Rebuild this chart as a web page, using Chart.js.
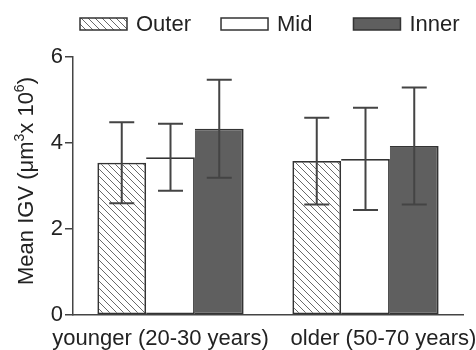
<!DOCTYPE html>
<html>
<head>
<meta charset="utf-8">
<script src="https://cdn.jsdelivr.net/npm/chart.js@4"></script>
<style>
  html, body { margin: 0; padding: 0; background: #fff; }
  #wrap { width: 476px; height: 350px; }
</style>
</head>
<body>
<div id="wrap"><canvas id="igvChart" width="476" height="350"></canvas></div>
<script>
// data
const categories = ['younger (20-30 years)', 'older (50-70 years)'];
const seriesNames = ['Outer', 'Mid', 'Inner'];
const outerMean = [3.54, 3.58];
const outerErr = [0.94, 1.01];
const midMean = [3.67, 3.63];
const midErr = [0.78, 1.19];
const innerMean = [4.33, 3.93];
const innerErr = [1.14, 1.36];
const yTicks = [0, 2, 4, 6];

const FONT = '"Liberation Sans", Arial, Helvetica, sans-serif';
const INK = '#333333';

// diagonal hatch for the "Outer" bars
function makeHatch() {
    const s = 7;
    const tile = document.createElement('canvas');
    tile.width = s;
    tile.height = s;
    const t = tile.getContext('2d');
    t.fillStyle = '#ffffff';
    t.fillRect(0, 0, s, s);
    t.strokeStyle = '#6a6a6a';
    t.lineWidth = 1;
    t.beginPath();
    t.moveTo(-1, -1); t.lineTo(s + 1, s + 1);
    t.moveTo(s - 1, -1); t.lineTo(s + 1, 1);
    t.moveTo(-1, s - 1); t.lineTo(1, s + 1);
    t.stroke();
    return document.createElement('canvas').getContext('2d').createPattern(tile, 'repeat');
}
const hatch = makeHatch();

const errorBars = {
    id: 'errorBars',
    afterDatasetsDraw(chart) {
        const ctx = chart.ctx;
        const y = chart.scales.y;
        ctx.save();
        ctx.strokeStyle = '#444';
        ctx.lineWidth = 2;
        chart.data.datasets.forEach((ds, i) => {
            const meta = chart.getDatasetMeta(i);
            meta.data.forEach((bar, j) => {
                const hi = y.getPixelForValue(ds.data[j] + ds.err[j]);
                const lo = y.getPixelForValue(ds.data[j] - ds.err[j]);
                const cap = 12.5;
                ctx.beginPath();
                ctx.moveTo(bar.x, hi); ctx.lineTo(bar.x, lo);
                ctx.moveTo(bar.x - cap, hi); ctx.lineTo(bar.x + cap, hi);
                ctx.moveTo(bar.x - cap, lo); ctx.lineTo(bar.x + cap, lo);
                ctx.stroke();
            });
        });
        ctx.restore();
    }
};

// legend, y title and category labels drawn by hand
const decorations = {
    id: 'decorations',
    afterDraw(chart) {
        const ctx = chart.ctx;
        const area = chart.chartArea;
        ctx.save();

        // legend
        ctx.font = '22px ' + FONT;
        ctx.textBaseline = 'middle';
        const gaps = [30, 41, 0];
        let x = area.left + 7;
        chart.data.datasets.forEach((ds, i) => {
            ctx.fillStyle = ds.backgroundColor;
            ctx.fillRect(x, 18, 47, 12);
            ctx.strokeStyle = INK;
            ctx.lineWidth = 1.5;
            ctx.strokeRect(x, 18, 47, 12);
            ctx.fillStyle = '#222';
            ctx.fillText(ds.label, x + 56, 25);
            x += 56 + ctx.measureText(ds.label).width + gaps[i];
        });

        // category labels
        const xs = chart.scales.x;
        const labelShift = [-10, 18];
        ctx.textAlign = 'center';
        ctx.textBaseline = 'alphabetic';
        chart.data.labels.forEach((lab, i) => {
            ctx.fillText(lab, xs.getPixelForTick(i) + labelShift[i], 345);
        });

        // y axis title with superscripts
        const parts = [
            ['Mean IGV (\u03bcm', 22, 0],
            ['3', 14, -9],
            ['x 10', 22, 0],
            ['6', 14, -9],
            [')', 22, 0]
        ];
        let total = 0;
        parts.forEach(p => { ctx.font = p[1] + 'px ' + FONT; total += ctx.measureText(p[0]).width; });
        ctx.translate(33, 181);
        ctx.rotate(-Math.PI / 2);
        ctx.textAlign = 'left';
        let cx = -total / 2;
        parts.forEach(p => {
            ctx.font = p[1] + 'px ' + FONT;
            ctx.fillText(p[0], cx, p[2]);
            cx += ctx.measureText(p[0]).width;
        });
        ctx.restore();
    }
};

// adjacent bars share one edge: the later bar skips its left border
function barStyle(skip) {
    return {
        borderColor: INK,
        borderWidth: 1.8,
        borderSkipped: skip,
        inflateAmount: 0,
        barPercentage: 1,
        categoryPercentage: 0.75
    };
}

new Chart(document.getElementById('igvChart'), {
    type: 'bar',
    data: {
        labels: categories,
        datasets: [
            Object.assign({ label: seriesNames[0], data: outerMean, err: outerErr, backgroundColor: hatch }, barStyle(false)),
            Object.assign({ label: seriesNames[1], data: midMean, err: midErr, backgroundColor: '#ffffff' }, barStyle('left')),
            Object.assign({ label: seriesNames[2], data: innerMean, err: innerErr, backgroundColor: '#5f5f5f' }, barStyle('left'))
        ]
    },
    options: {
        responsive: false,
        animation: false,
        devicePixelRatio: 1,
        layout: { padding: { top: 57, left: 46, right: 13, bottom: 0 } },
        plugins: {
            legend: { display: false },
            tooltip: { enabled: false }
        },
        scales: {
            x: {
                ticks: { display: false },
                grid: { display: false },
                border: { display: true, color: '#444', width: 1.5 },
                afterFit: (scale) => { scale.height = 35; }
            },
            y: {
                min: 0,
                max: 6,
                afterBuildTicks: (scale) => { scale.ticks = yTicks.map(v => ({ value: v })); },
                ticks: {
                    color: '#222',
                    padding: 2,
                    font: { size: 22, family: FONT }
                },
                grid: {
                    drawOnChartArea: false,
                    drawTicks: true,
                    tickLength: 8,
                    color: '#444',
                    lineWidth: 1.5
                },
                border: { display: true, color: '#444', width: 1.5 },
                afterFit: (scale) => { scale.width = 27; }
            }
        }
    },
    plugins: [errorBars, decorations]
});
</script>
</body>
</html>
